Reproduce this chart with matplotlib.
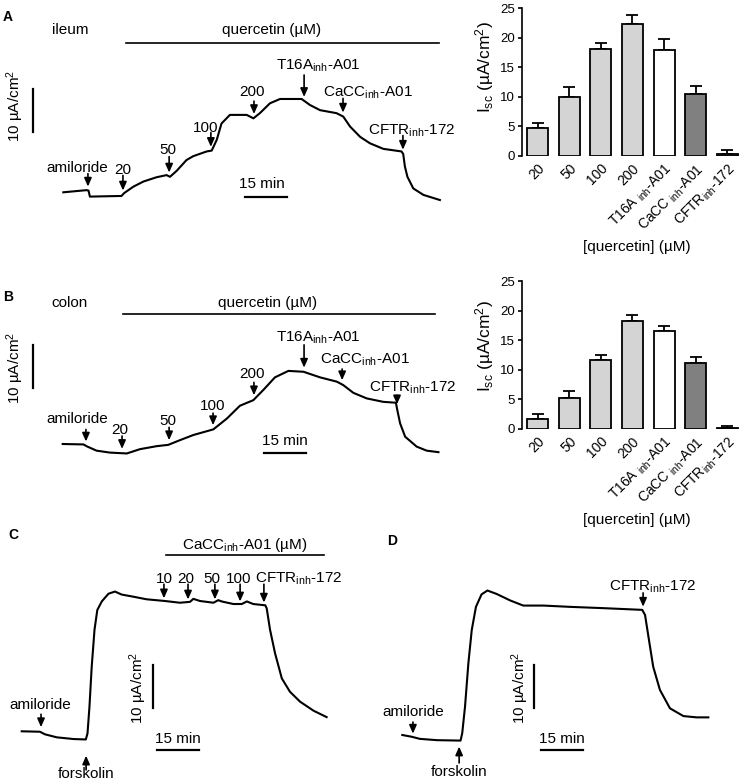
import numpy as np
import matplotlib
matplotlib.use('Agg')
import matplotlib.pyplot as plt

plt.rcParams['font.family'] = 'Liberation Sans'
plt.rcParams['mathtext.fontset'] = 'custom'
plt.rcParams['mathtext.rm'] = 'Liberation Sans'
plt.rcParams['mathtext.it'] = 'Liberation Sans:italic'
plt.rcParams['mathtext.bf'] = 'Liberation Sans:bold'

INH = r'$_{\mathrm{inh}}$'
UNIT = r'10 µA/cm$^{2}$'

# ---- short-circuit current traces (time in min, Isc in uA/cm2, relative to start) ----
ileum_t = [0, 8.3, 9.0, 9.5, 20.8, 21.7, 25.0, 28.6, 33.3, 36.9, 38.1, 40.5, 44.0, 46.4,
           51.2, 53.0, 54.8, 56.5, 59.5, 65.5, 67.9, 70.2, 73.8, 77.4, 85.1, 88.1, 91.7,
           97.6, 100.0, 102.4, 106.0, 109.5, 114.3, 120.8, 121.4, 122.0, 122.9, 125.0,
           128.6, 134.5]
ileum_i = [0, 0.5, 0.4, -1.0, -0.85, -0.2, 1.3, 2.5, 3.5, 4.0, 3.6, 5.0, 7.5, 8.4,
           9.5, 9.7, 12.2, 16.0, 18.0, 18.0, 17.2, 18.4, 20.7, 21.7, 21.7, 20.3, 19.1,
           18.4, 17.6, 15.3, 12.9, 11.4, 10.1, 9.5, 8.9, 6.0, 3.6, 0.9,
           -0.6, -1.8]

colon_t = [0, 7.4, 8.8, 12.1, 16.9, 22.9, 27.6, 33.6, 37.7, 41.9, 46.7, 53.8, 58.6,
           63.3, 68.1, 71.7, 75.8, 80.6, 86.0, 91.9, 97.9, 100.2, 103.8, 108.6, 114.5,
           119.0, 119.5, 120.5, 122.3, 126.4, 130.0, 134.2]
colon_i = [0, -0.1, -0.6, -1.55, -2.0, -2.2, -1.2, -0.5, -0.2, 0.9, 2.1, 3.4, 5.9,
           8.9, 10.2, 12.6, 15.5, 17.0, 16.8, 15.5, 14.5, 13.7, 11.9, 10.6, 9.8,
           9.6, 7.9, 4.8, 1.7, -0.6, -1.55, -1.9]

cacc_t = [0, 6.5, 8.3, 12.5, 18.5, 22.9, 23.5, 24.2, 25.0, 26.0, 27.0, 28.6, 31.0,
          33.3, 35.7, 39.9, 44.6, 51.2, 56.5, 60.1, 61.3, 63.7, 68.5, 70.2, 71.4, 75.6,
          78.6, 80.4, 82.7, 87.0, 87.5, 88.7, 90.5, 92.9, 95.8, 99.4, 104.2, 108.9]
cacc_i = [0, -0.1, -0.7, -1.4, -1.8, -1.9, -0.5, 5.7, 15.0, 23.6, 28.2, 30.2, 32.0,
          32.5, 31.8, 31.3, 30.7, 30.3, 29.9, 30.1, 30.8, 30.3, 29.9, 30.5, 30.2, 29.6,
          29.6, 30.2, 29.6, 29.3, 28.6, 23.6, 18.1, 12.3, 9.2, 6.9, 4.8, 3.3]

ctrl_t = [0, 3.3, 6.3, 12.3, 20.8, 21.4, 22.4, 23.6, 24.8, 26.3, 28.3, 30.4, 33.7,
          38.5, 43.2, 50.4, 59.9, 71.8, 85.7, 86.7, 87.9, 89.6, 92.0, 95.6, 100.4,
          105.1, 109.3]
ctrl_i = [0, -0.4, -0.9, -1.2, -1.3, 0.4, 6.6, 16.7, 24.4, 29.8, 32.7, 33.6, 32.8,
          31.3, 30.1, 30.1, 29.8, 29.5, 29.1, 27.9, 22.9, 15.9, 10.5, 6.2, 4.4,
          4.1, 4.1]

# additions (min)
quer_events = ['amiloride', '20', '50', '100', '200',
               'T16A' + INH + '-A01', 'CaCC' + INH + '-A01', 'CFTR' + INH + '-172']
ileum_event_t = [8.8, 21.3, 37.8, 52.7, 68.1, 86.0, 99.9, 121.3]
colon_event_t = [8.3, 21.2, 38.0, 53.7, 68.3, 86.2, 99.8, 119.4]
cacc_events = ['10', '20', '50', '100', 'CFTR' + INH + '-172']
cacc_event_t = [50.8, 59.4, 69.0, 78.0, 86.5]

# ---- summary bars ----
conditions = ['20', '50', '100', '200', 'T16A ' + INH + '-A01',
              'CaCC ' + INH + '-A01', 'CFTR' + INH + '-172']
ileum_mean = [4.75, 9.95, 18.1, 22.4, 18.0, 10.5, 0.3]
ileum_sem = [0.75, 1.75, 1.1, 1.5, 1.8, 1.4, 0.66]
colon_mean = [1.7, 5.3, 11.7, 18.2, 16.5, 11.1, 0.17]
colon_sem = [0.85, 1.05, 0.8, 1.1, 0.95, 1.1, 0.25]
bar_colors = ['#d4d4d4', '#d4d4d4', '#d4d4d4', '#d4d4d4', 'white', '#808080', '#808080']

W, H = 743, 782
PX_MIN = 2.8   # pixels per minute
PX_UA = 4.3    # pixels per uA/cm2
FS = 11

fig = plt.figure(figsize=(W / 100, H / 100), dpi=100)


def trace_ax(x0, y0, left, top, width, height):
    # x0, y0: pixel position of the trace start
    ax = fig.add_axes([left / W, 1 - (top + height) / H, width / W, height / H])
    ax.set_xlim((left - x0) / PX_MIN, (left + width - x0) / PX_MIN)
    ax.set_ylim((y0 - (top + height)) / PX_UA, (y0 - top) / PX_UA)
    ax.axis('off')
    return ax


def arrow(ax, t, tip, tail):
    ax.annotate('', xy=(t, tip), xytext=(t, tail), annotation_clip=False,
                arrowprops=dict(arrowstyle='-|>,head_length=0.5,head_width=0.22',
                                lw=1.2, color='black', shrinkA=0, shrinkB=0,
                                mutation_scale=10))


def mark(ax, tr_t, tr_i, t, label, length=3.2, dx=0.0, gap=1.0, tgap=0.6,
         tail=None, label_y=None):
    tip = np.interp(t, tr_t, tr_i) + gap
    if tail is None:
        tail = tip + length
    arrow(ax, t, tip, tail)
    if label_y is None:
        label_y = tail + tgap
    ax.text(t + dx, label_y, label, ha='center', va='baseline', fontsize=FS)


def mark_below(ax, tr_t, tr_i, t, label, length, gap, tgap):
    tip = np.interp(t, tr_t, tr_i) - gap
    tail = tip - length
    arrow(ax, t, tip, tail)
    ax.text(t, tail + tgap, label, ha='center', va='top', fontsize=FS)


def scale_bars(ax, vx, vy, hx, hy, lx, ly, tx, ty):
    ax.plot([vx, vx], [vy, vy + 10], color='black', lw=1.6, clip_on=False)
    ax.text(lx, ly, UNIT, rotation=90, ha='center', va='center', fontsize=FS)
    ax.plot([hx, hx + 15], [hy, hy], color='black', lw=1.6, clip_on=False)
    ax.text(tx, ty, '15 min', ha='center', va='baseline', fontsize=FS)


# ---------------- A trace ----------------
axA = trace_ax(63.3, 192.3, 0, 0, 460, 215)
axA.plot(ileum_t, ileum_i, color='black', lw=1.5, clip_on=False)
axA.plot([22.4, 134.2], [34.7, 34.7], color='black', lw=1.2, clip_on=False)
axA.text(74.5, 36.7, 'quercetin (µM)', ha='center', va='baseline', fontsize=FS)
axA.text(2.4, 36.7, 'ileum', ha='center', va='baseline', fontsize=FS)
a_len = [3.0, 3.5, 3.7, 3.3, 3.0, 5.1, 3.3, 3.3]
a_dx = [-3.9, 0, -0.4, -1.7, -0.7, 5.0, 8.9, 3.2]
a_tg = [0.35, 0.35, 0.7, 0.25, 1.2, 1.2, 0.5, 0.25]
for k, (lab, t) in enumerate(zip(quer_events, ileum_event_t)):
    mark(axA, ileum_t, ileum_i, t, lab, a_len[k], a_dx[k], 0.9, a_tg[k])
scale_bars(axA, -10.8, 14.0, 64.9, -1.1, -17.3, 20.1, 70.9, 0.9)

# ---------------- B trace ----------------
axB = trace_ax(62.7, 444, 0, 285, 460, 200)
axB.plot(colon_t, colon_i, color='black', lw=1.5, clip_on=False)
axB.plot([21.6, 133.0], [30.2, 30.2], color='black', lw=1.2, clip_on=False)
axB.text(73.0, 31.8, 'quercetin (µM)', ha='center', va='baseline', fontsize=FS)
axB.text(2.6, 31.8, 'colon', ha='center', va='baseline', fontsize=FS)
b_len = [2.8, 3.0, 3.0, 2.8, 3.0, 5.3, 2.6, 2.1]
b_dx = [-3.2, -0.7, -0.4, 0, -0.7, 5.0, 8.2, 5.7]
b_tg = [1.4, 0.5, 0.5, 0.7, 0.9, 0.7, 1.2, 0.9]
for k, (lab, t) in enumerate(zip(quer_events, colon_event_t)):
    mark(axB, colon_t, colon_i, t, lab, b_len[k], b_dx[k], 1.0, b_tg[k])
scale_bars(axB, -10.6, 13.0, 71.9, -2.1, -17.0, 17.8, 79.4, -0.2)

# ---------------- C trace ----------------
axC = trace_ax(21.7, 731.3, 0, 520, 370, 262)
axC.plot(cacc_t, cacc_i, color='black', lw=1.5, clip_on=False)
axC.plot([51.5, 107.9], [41.0, 41.0], color='black', lw=1.2, clip_on=False)
axC.text(79.8, 42.4, 'CaCC' + INH + '-A01 (µM)', ha='center', va='baseline', fontsize=FS)
c_dx = [0, -0.7, -1.0, -0.7, 12.2]
for k, (lab, t) in enumerate(zip(cacc_events, cacc_event_t)):
    mark(axC, cacc_t, cacc_i, t, lab, dx=c_dx[k], gap=0.6, tail=34.2, label_y=34.5)
mark(axC, cacc_t, cacc_i, 6.9, 'amiloride', 3.0, -0.4, 1.2, 1.2)
mark_below(axC, cacc_t, cacc_i, 23.0, 'forskolin', 3.3, 4.0, 0.7)
scale_bars(axC, 46.9, 5.4, 48.3, -4.3, 41.5, 10.1, 55.8, -2.65)

# ---------------- D trace ----------------
axD = trace_ax(402.3, 735, 370, 520, 373, 262)
axD.plot(ctrl_t, ctrl_i, color='black', lw=1.5, clip_on=False)
mark(axD, ctrl_t, ctrl_i, 3.8, 'amiloride', 2.7, 0, 0.8, 1.5)
mark(axD, ctrl_t, ctrl_i, 86.0, 'CFTR' + INH + '-172', 3.2, 3.5, 1.1, 0.5)
mark_below(axD, ctrl_t, ctrl_i, 20.3, 'forskolin', 3.8, 1.4, -0.4)
scale_bars(axD, 46.9, 6.3, 49.4, -3.5, 42.2, 10.9, 56.9, -1.8)

# ---------------- bar charts ----------------
def bar_panel(top, means, sems, ylab_y):
    left, width, height = 522, 220, 147.5
    ax = fig.add_axes([left / W, 1 - (top + height) / H, width / W, height / H])
    x = np.arange(len(conditions))
    ax.bar(x, means, width=0.66, color=bar_colors, edgecolor='black', linewidth=1.3, zorder=3)
    ax.errorbar(x, means, yerr=[np.zeros(len(x)), sems], fmt='none', ecolor='black',
                elinewidth=1.3, capsize=4, capthick=1.3, zorder=2)
    ax.set_xlim(-0.49, 6.46)
    ax.set_ylim(0, 25)
    ax.set_yticks(range(0, 26, 5))
    for s in ['top', 'right', 'bottom']:
        ax.spines[s].set_visible(False)
    ax.spines['left'].set_linewidth(1.2)
    ax.tick_params(axis='y', direction='out', length=3, width=1.2, labelsize=9.5, pad=2)
    ax.set_xticks(x)
    ax.set_xticklabels(conditions, rotation=45, ha='right', rotation_mode='anchor', fontsize=10)
    ax.tick_params(axis='x', length=0, pad=4)
    ax.set_ylabel(r'I$_{\mathrm{sc}}$ (µA/cm$^{2}$)', fontsize=12.5)
    ax.yaxis.set_label_coords(-0.168, ylab_y)
    ax.yaxis.label.set(rotation_mode='default', ha='center', va='center')
    ax.set_xlabel('[quercetin] (µM)', fontsize=FS)
    ax.xaxis.set_label_coords(0.52, -0.62)
    ax.xaxis.label.set_va('center')
    return ax


bar_panel(8.3, ileum_mean, ileum_sem, 0.6)
bar_panel(281.3, colon_mean, colon_sem, 0.56)

# panel letters
for letter, px, py in [('A', 8, 17), ('B', 8, 297), ('C', 13, 535), ('D', 392, 541)]:
    fig.text(px / W, 1 - py / H, letter, fontsize=10, fontweight='bold', ha='center', va='center')

fig.savefig('out.png', dpi=100)
